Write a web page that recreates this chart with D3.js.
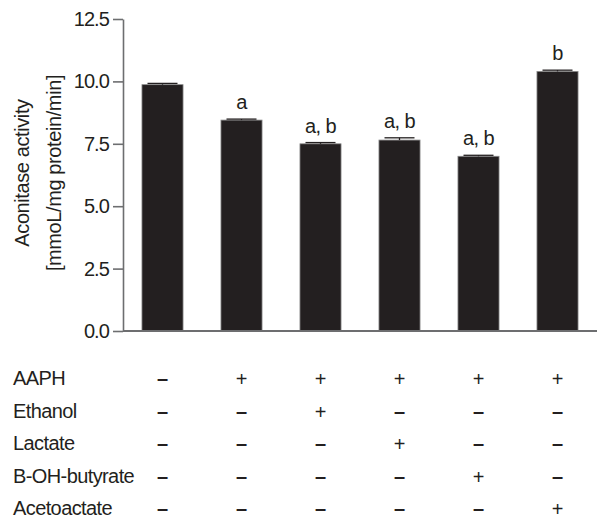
<!DOCTYPE html>
<html>
<head>
<meta charset="utf-8">
<script src="https://cdn.jsdelivr.net/npm/d3@7"></script>
<style>
  html, body { margin: 0; padding: 0; background: #fff; }
  svg { display: block; }
  text { font-family: "Liberation Sans", Arial, sans-serif; fill: #231f20; }
</style>
</head>
<body>
<div id="chart"></div>
<script>
(() => {
  "use strict";

  // ------- data -------
  const groups = ["g1", "g2", "g3", "g4", "g5", "g6"];
  const means = [9.87, 8.45, 7.50, 7.65, 7.00, 10.40];
  const errors = [0.05, 0.04, 0.05, 0.09, 0.04, 0.05];
  const sigLabels = ["", "a", "a, b", "a, b", "a, b", "b"];
  const yTicks = [0, 2.5, 5, 7.5, 10, 12.5];

  const treatments = ["AAPH", "Ethanol", "Lactate", "B-OH-butyrate", "Acetoactate"];
  const treatmentMatrix = [
    [0, 1, 1, 1, 1, 1],
    [0, 0, 1, 0, 0, 0],
    [0, 0, 0, 1, 0, 0],
    [0, 0, 0, 0, 1, 0],
    [0, 0, 0, 0, 0, 1]
  ];

  const W = 597, H = 520;
  const plot = { left: 123, right: 597, top: 19, bottom: 331 };
  const axisColor = "#6d6e70";
  const barColor = "#231f20";
  const FS = "20px";
  const LS = "-0.6px";

  const svg = d3.select("#chart").append("svg").attr("width", W).attr("height", H);

  const x = d3.scaleBand().domain(groups).range([plot.left, plot.right]).paddingInner(0.48).paddingOuter(0.24);
  const y = d3.scaleLinear().domain([0, 12.5]).range([plot.bottom, plot.top]);

  // bars
  svg.append("g").selectAll("rect")
    .data(groups)
    .join("rect")
    .attr("x", d => x(d))
    .attr("y", (d, i) => y(means[i]))
    .attr("width", x.bandwidth())
    .attr("height", (d, i) => y(0) - y(means[i]))
    .attr("fill", barColor)
    .attr("stroke", "#8a8a8a")
    .attr("stroke-width", 0.8);

  // error bars (upper only)
  const capW = 30;
  const eb = svg.append("g").attr("stroke", barColor).attr("stroke-width", 1.3);
  groups.forEach((g, i) => {
    const cx = x(g) + x.bandwidth() / 2;
    eb.append("line").attr("x1", cx).attr("x2", cx).attr("y1", y(means[i])).attr("y2", y(means[i] + errors[i]));
    eb.append("line").attr("x1", cx - capW / 2).attr("x2", cx + capW / 2)
      .attr("y1", y(means[i] + errors[i])).attr("y2", y(means[i] + errors[i]));
  });

  // significance letters
  svg.append("g").selectAll("text")
    .data(groups)
    .join("text")
    .attr("x", d => x(d) + x.bandwidth() / 2)
    .attr("y", (d, i) => y(means[i] + errors[i]) - 10)
    .attr("text-anchor", "middle")
    .style("font-size", FS)
    .style("letter-spacing", LS)
    .text((d, i) => sigLabels[i]);

  // y axis
  const yAxisG = svg.append("g")
    .attr("transform", `translate(${plot.left},0)`)
    .call(d3.axisLeft(y).tickValues(yTicks).tickFormat(d3.format(".1f")).tickSize(10).tickSizeOuter(0).tickPadding(4));
  yAxisG.select(".domain").attr("stroke", axisColor).attr("stroke-width", 1.6);
  yAxisG.selectAll(".tick line").attr("stroke", axisColor).attr("stroke-width", 1.6);
  yAxisG.selectAll(".tick text")
    .attr("fill", barColor)
    .style("font-size", FS)
    .style("letter-spacing", "-0.9px")
    .style("font-family", "'Liberation Sans', Arial, sans-serif");

  // x axis baseline
  svg.append("line")
    .attr("x1", plot.left).attr("x2", plot.right)
    .attr("y1", y(0)).attr("y2", y(0))
    .attr("stroke", axisColor).attr("stroke-width", 1.8);

  // y axis title
  const titleG = svg.append("g").attr("transform", `translate(0,${(plot.top + plot.bottom) / 2 - 2}) rotate(-90)`);
  titleG.append("text").attr("x", 0).attr("y", 29).attr("text-anchor", "middle")
    .style("font-size", FS).style("letter-spacing", "-0.4px").text("Aconitase activity");
  titleG.append("text").attr("x", 0).attr("y", 61).attr("text-anchor", "middle")
    .style("font-size", FS).style("letter-spacing", "-0.4px").text("[mmoL/mg protein/min]");

  // treatment table
  const rowY = d3.scalePoint().domain(treatments).range([378, 508]);
  const table = svg.append("g");
  table.selectAll("text.row")
    .data(treatments)
    .join("text")
    .attr("class", "row")
    .attr("x", 13)
    .attr("y", d => rowY(d))
    .attr("dy", "0.36em")
    .style("font-size", FS)
    .style("letter-spacing", LS)
    .text(d => d);

  treatments.forEach((t, r) => {
    table.append("g").selectAll("text")
      .data(groups)
      .join("text")
      .attr("x", d => x(d) + x.bandwidth() / 2)
      .attr("y", rowY(t))
      .attr("dy", (d, i) => treatmentMatrix[r][i] ? "0.42em" : "0.36em")
      .attr("text-anchor", "middle")
      .style("font-size", FS)
      .style("font-weight", (d, i) => treatmentMatrix[r][i] ? "normal" : "bold")
      .text((d, i) => treatmentMatrix[r][i] ? "+" : "\u2013");
  });
})();
</script>
</body>
</html>
